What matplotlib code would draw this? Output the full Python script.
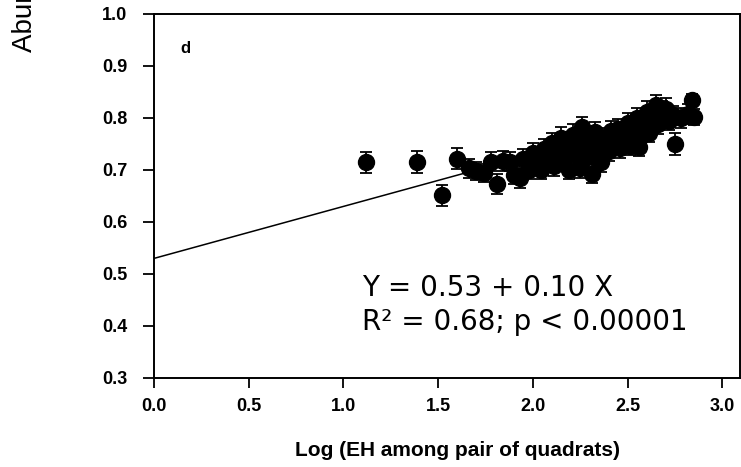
import matplotlib
matplotlib.use("Agg")
import matplotlib.pyplot as plt
import numpy as np

# ---- data ----
x_vals = [1.12, 1.39, 1.52, 1.60, 1.81, 2.75,
          1.66, 1.70, 1.74, 1.78, 1.84, 1.88, 1.90, 1.93, 1.95, 1.98,
          2.00, 2.02, 2.04, 2.06, 2.08, 2.10, 2.11, 2.13, 2.15, 2.16,
          2.18, 2.19, 2.21, 2.22, 2.24, 2.25, 2.26, 2.28, 2.29, 2.31,
          2.32, 2.33, 2.35, 2.36, 2.38, 2.40, 2.41, 2.43, 2.45, 2.46,
          2.48, 2.50, 2.51, 2.53, 2.55, 2.56, 2.58, 2.60, 2.61, 2.63,
          2.65, 2.66, 2.68, 2.70, 2.72, 2.74, 2.78, 2.82, 2.84, 2.85,
          2.03, 2.17, 2.27, 2.44, 2.57, 2.69]
y_vals = [0.715, 0.716, 0.651, 0.722, 0.673, 0.750,
          0.703, 0.698, 0.694, 0.716, 0.718, 0.716, 0.690, 0.684, 0.722, 0.700,
          0.733, 0.712, 0.700, 0.740, 0.722, 0.752, 0.707, 0.735, 0.762, 0.718,
          0.745, 0.700, 0.768, 0.728, 0.752, 0.703, 0.782, 0.740, 0.760, 0.693,
          0.725, 0.773, 0.748, 0.715, 0.762, 0.736, 0.775, 0.752, 0.778, 0.742,
          0.765, 0.790, 0.747, 0.772, 0.800, 0.745, 0.785, 0.812, 0.772, 0.798,
          0.825, 0.788, 0.812, 0.818, 0.795, 0.805, 0.800, 0.808, 0.835, 0.802,
          0.725, 0.730, 0.722, 0.760, 0.765, 0.800]
y_err = [0.020, 0.021, 0.020, 0.020, 0.020, 0.022,
         0.018, 0.017, 0.018, 0.018, 0.019, 0.018, 0.017, 0.018, 0.019, 0.018,
         0.019, 0.018, 0.017, 0.019, 0.018, 0.020, 0.018, 0.019, 0.020, 0.018,
         0.019, 0.018, 0.020, 0.019, 0.019, 0.018, 0.020, 0.019, 0.019, 0.018,
         0.019, 0.020, 0.019, 0.018, 0.019, 0.019, 0.020, 0.019, 0.020, 0.019,
         0.019, 0.020, 0.019, 0.019, 0.020, 0.019, 0.019, 0.020, 0.019, 0.020,
         0.020, 0.019, 0.020, 0.020, 0.019, 0.019, 0.019, 0.019, 0.012, 0.015,
         0.018, 0.018, 0.018, 0.019, 0.019, 0.019]

intercept = 0.53
slope = 0.10
fit_range = [0.0, 2.85]

x_ticks = [0.0, 0.5, 1.0, 1.5, 2.0, 2.5, 3.0]
y_ticks = [0.3, 0.4, 0.5, 0.6, 0.7, 0.8, 0.9, 1.0]

font = ['Liberation Sans', 'DejaVu Sans']
plt.rcParams['font.family'] = font

fig = plt.figure(figsize=(7.41, 4.67), dpi=100)
ax = fig.add_axes([154/741, 89/467, 585.5/741, 364/467])

fx = np.array(fit_range)
ax.plot(fx, intercept + slope * fx, color='black', lw=1.1, zorder=2)

ax.errorbar(x_vals, y_vals, yerr=y_err, fmt='o', color='black', ms=11.5,
            elinewidth=1.3, capsize=4.5, capthick=1.3, zorder=3)

ax.set_xlim(0, 3.09)
ax.set_ylim(0.3, 1.0)
ax.set_xticks(x_ticks)
ax.set_yticks(y_ticks)
ax.set_xticklabels([f"{t:.1f}" for t in x_ticks], fontsize=13, fontweight='bold')
ax.set_yticklabels([f"{t:.1f}" for t in y_ticks], fontsize=13, fontweight='bold')
ax.tick_params(axis='x', direction='out', length=7.5, width=1.3, pad=7)
ax.tick_params(axis='y', direction='out', length=8, width=1.3, pad=11)
for s in ax.spines.values():
    s.set_linewidth(1.4)

fig.text(458/741, 1 - 456/467, "Log (EH among pair of quadrats)", fontsize=15,
         fontweight='bold', ha='center', va='baseline')

ax.text(0.045, 0.905, "d", transform=ax.transAxes, fontsize=12, fontweight='bold',
        ha='left', va='center')

eq_font = ['DejaVu Sans']
ax.text(1.10, 0.4577, "Y = 0.53 + 0.10 X", fontsize=20, family=eq_font,
        ha='left', va='baseline')
ax.text(1.10, 0.392, "R² = 0.68; p < 0.00001", fontsize=20, family=eq_font,
        ha='left', va='baseline')

fig.text(25/741, (467-52)/467, "Abundance similarity", rotation=90, fontsize=20,
         ha='center', va='bottom')

fig.savefig("out.png", dpi=100)
